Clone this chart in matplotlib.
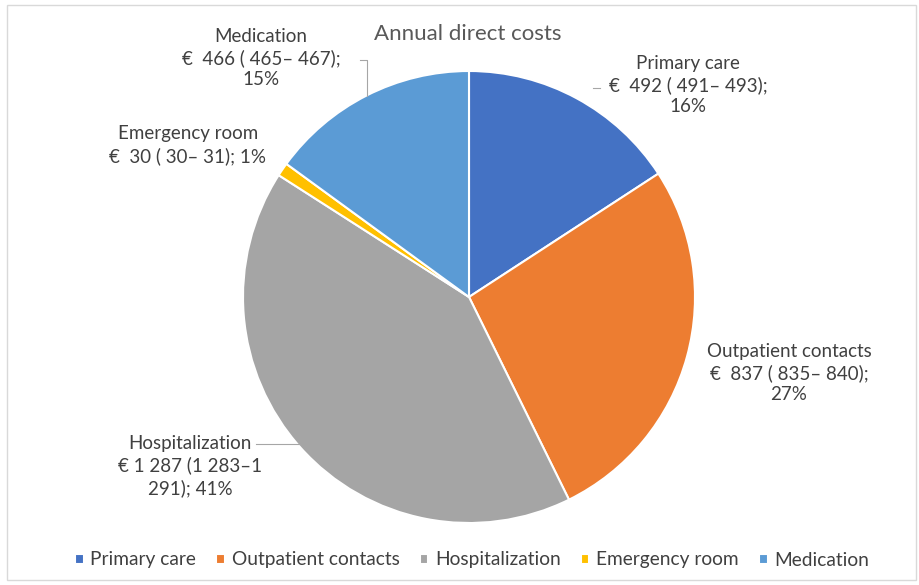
import numpy as np
import matplotlib.pyplot as plt
from matplotlib.patches import Rectangle

plt.rcParams['font.family'] = ['Lato', 'DejaVu Sans']

categories = ['Primary care', 'Outpatient contacts', 'Hospitalization', 'Emergency room', 'Medication']
costs = [492, 837, 1287, 30, 466]
labels = ['Primary care\n€  492 ( 491– 493);\n16%',
          'Outpatient contacts\n€  837 ( 835– 840);\n27%',
          'Hospitalization\n€ 1 287 (1 283–1\n291); 41%',
          'Emergency room\n€  30 ( 30– 31); 1%',
          'Medication\n€  466 ( 465– 467);\n15%']
colors = ['#4472C4', '#ED7D31', '#A5A5A5', '#FFC000', '#5B9BD5']

fig = plt.figure(figsize=(9.2, 5.85), dpi=100)
fig.patches.append(Rectangle((0.008, 0.008), 0.988, 0.984, transform=fig.transFigure,
                             fill=False, edgecolor='#D9D9D9', linewidth=1))

cx, cy, r = 469, 297, 226
ax = fig.add_axes([(cx - r) / 920, 1 - (cy + r) / 585, 2 * r / 920, 2 * r / 585])
wedges, _ = ax.pie(costs, colors=colors, startangle=90, counterclock=False,
                   wedgeprops=dict(edgecolor='white', linewidth=1.5))
ax.set_xlim(-1, 1)
ax.set_ylim(-1, 1)
ax.set_aspect('auto')


def px(x, y):
    return ((x - cx) / r, (cy - y) / r)


txt = dict(ha='center', va='center', fontsize=13.5, color='#404040', linespacing=1.3)
label_pos = [(688, 85), (789, 373), (190, 466), (188, 145), (261, 58)]
for w, lab, (lx, ly) in zip(wedges, labels, label_pos):
    ax.text(*px(lx, ly), lab, clip_on=False, **txt)

# leader lines
lc = dict(color='#A6A6A6', lw=0.8, clip_on=False)
mid = np.deg2rad((wedges[4].theta1 + wedges[4].theta2) / 2)
ex, ey = np.cos(mid), np.sin(mid)
x0, y0 = px(360, 60)
ax.plot([x0, ex, ex], [y0, y0, ey], **lc)
mid = np.deg2rad((wedges[2].theta1 + wedges[2].theta2) / 2)
ex, ey = np.cos(mid), np.sin(mid)
x0, y0 = px(256, 444)
ax.plot([x0, ex], [y0, y0], **lc)
x0, y0 = px(593, 88)
ax.plot([x0, px(600, 88)[0]], [y0, y0], **lc)

fig.text(468 / 920, 1 - 34 / 585, 'Annual direct costs', ha='center', va='center',
         fontsize=16, color='#595959')

fig.legend(wedges, categories, loc='center', bbox_to_anchor=(472 / 920, 1 - 560 / 585),
           ncol=5, frameon=False, fontsize=13.8, handlelength=0.45, handleheight=0.45,
           handletextpad=0.35, columnspacing=1.05, labelcolor='#404040')

fig.savefig('out.png', dpi=100)
